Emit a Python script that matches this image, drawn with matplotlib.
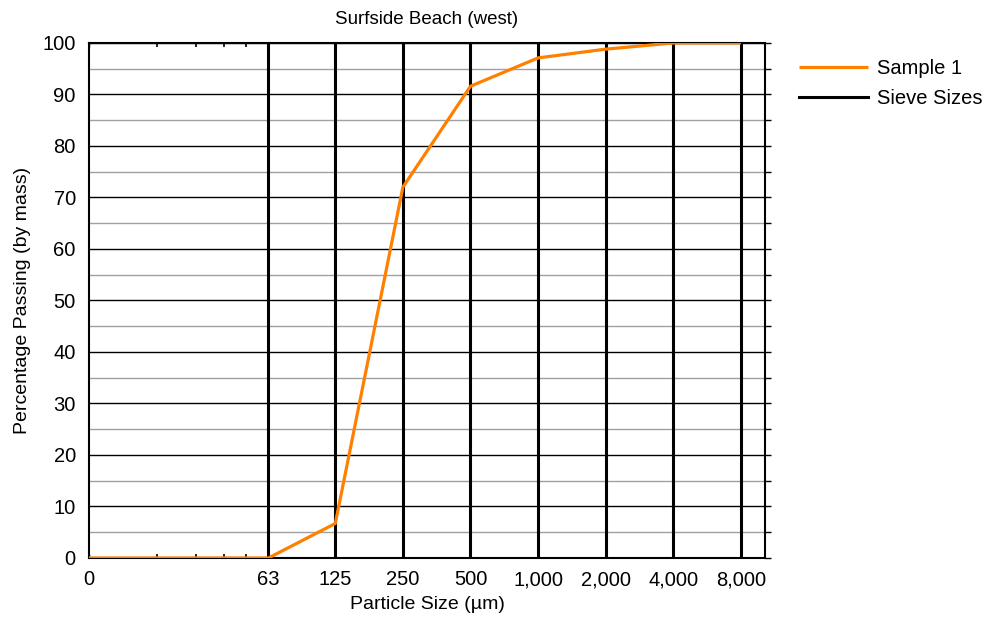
import matplotlib.pyplot as plt
from matplotlib.ticker import FixedLocator, NullFormatter

plt.rcParams['font.family'] = ['Liberation Sans', 'DejaVu Sans']

# particle sizes in micrometres; the left edge (10) is labelled "0"
sieve_sizes = [63, 125, 250, 500, 1000, 2000, 4000, 8000]
tick_labels = ["0", "63", "125", "250", "500", "1,000", "2,000", "4,000", "8,000"]
sample_sizes = [10, 63, 125, 250, 500, 1000, 2000, 4000, 8000]
sample_passing = [0, 0, 6.7, 72.0, 91.6, 97.1, 98.8, 100, 100]

fig = plt.figure(figsize=(9.95, 6.31), dpi=100)
ax = fig.add_axes([0.0894, 0.1157, 0.6794, 0.8162])

ax.set_xscale("log")
ax.set_xlim(10, 10240)
ax.set_ylim(0, 100)

# horizontal grid: black every 10, grey every 5
for y in range(5, 100, 10):
    ax.axhline(y, color="#a0a0a0", lw=1.0, zorder=1)
for y in range(10, 101, 10):
    ax.axhline(y, color="black", lw=1.0, zorder=1)

# sieve lines
for i, s in enumerate(sieve_sizes):
    ax.plot([s, s], [0, 100], color="black", lw=2.2, zorder=2,
            label="Sieve Sizes" if i == 0 else None)

ax.plot(sample_sizes, sample_passing, color="#ff8000", lw=2.3, zorder=3,
        label="Sample 1", solid_capstyle="butt")

ax.xaxis.set_major_locator(FixedLocator([10] + sieve_sizes))
ax.set_xticklabels(tick_labels)
ax.xaxis.set_minor_locator(FixedLocator([20, 30, 40, 50]))
ax.xaxis.set_minor_formatter(NullFormatter())
ax.tick_params(axis="x", which="major", direction="in", length=3, width=1,
               top=True, labelsize=14.5, pad=9)
ax.tick_params(axis="x", which="minor", direction="in", length=3, width=1.2,
               top=True)

ax.set_yticks(range(0, 101, 10))
ax.yaxis.set_minor_locator(FixedLocator(list(range(5, 100, 10))))
ax.tick_params(axis="y", which="both", direction="out", length=4, width=1,
               right=True, left=False, labelsize=14.5, pad=5.5)

for sp in ax.spines.values():
    sp.set_linewidth(1.5)

ax.set_title("Surfside Beach (west)", fontsize=13.5, pad=14)
ax.set_xlabel("Particle Size (\u00b5m)", fontsize=14, labelpad=5)
ax.set_ylabel("Percentage Passing (by mass)", fontsize=14, labelpad=8)

handles, labels = ax.get_legend_handles_labels()
order = [labels.index("Sample 1"), labels.index("Sieve Sizes")]
fig.legend([handles[i] for i in order], [labels[i] for i in order],
           loc="upper left", bbox_to_anchor=(0.785, 0.935), frameon=False,
           fontsize=14.5, handlelength=3.4, handletextpad=0.45, labelspacing=0.55)

fig.savefig("out.png", dpi=100)
